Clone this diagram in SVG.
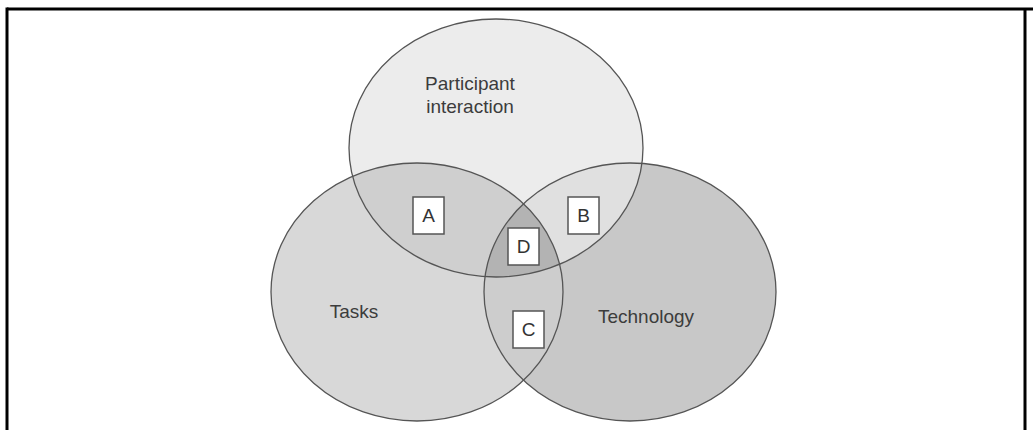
<svg xmlns="http://www.w3.org/2000/svg" width="1033" height="430" viewBox="0 0 1033 430">
<style>
.outline{fill:none;stroke:#555;stroke-width:1.3}
.lbl{font-family:"Liberation Sans",Arial,sans-serif;font-size:19px;fill:#3c3c3c}
.box{fill:#fff;stroke:#555;stroke-width:1.5}
.let{font-family:"Liberation Sans",Arial,sans-serif;font-size:19px;fill:#333;text-anchor:middle}
</style>
<defs>
<clipPath id="cTop"><ellipse cx="496" cy="148" rx="147" ry="129"/></clipPath>
<clipPath id="cLeft"><ellipse cx="417" cy="292" rx="146" ry="129"/></clipPath>
<clipPath id="cRight"><ellipse cx="630" cy="292" rx="146" ry="129"/></clipPath>
</defs>
<rect width="1033" height="430" fill="#fff"/>
<g id="frame" stroke="#000" stroke-width="3" fill="none">
<line x1="7" y1="9" x2="1033" y2="9"/>
<line x1="7" y1="7.5" x2="7" y2="430"/>
<line x1="1025" y1="9" x2="1025" y2="430"/>
</g>
<g id="tasks">
<ellipse cx="417" cy="292" rx="146" ry="129" fill="#d8d8d8"/>
</g>
<g id="technology">
<ellipse cx="630" cy="292" rx="146" ry="129" fill="#c8c8c8"/>
</g>
<g id="participant">
<ellipse cx="496" cy="148" rx="147" ry="129" fill="#ececec"/>
</g>
<g id="overlaps">
<g clip-path="url(#cTop)"><ellipse cx="417" cy="292" rx="146" ry="129" fill="#cfcfcf"/></g>
<g clip-path="url(#cTop)"><ellipse cx="630" cy="292" rx="146" ry="129" fill="#e0e0e0"/></g>
<g clip-path="url(#cLeft)"><ellipse cx="630" cy="292" rx="146" ry="129" fill="#cdcdcd"/></g>
<g clip-path="url(#cTop)"><g clip-path="url(#cLeft)"><ellipse cx="630" cy="292" rx="146" ry="129" fill="#b3b3b3"/></g></g>
</g>
<g id="outlines">
<ellipse class="outline" cx="496" cy="148" rx="147" ry="129"/>
<ellipse class="outline" cx="417" cy="292" rx="146" ry="129"/>
<ellipse class="outline" cx="630" cy="292" rx="146" ry="129"/>
</g>
<g id="labels">
<text class="lbl" x="470" y="90" text-anchor="middle">Participant</text>
<text class="lbl" x="470" y="113" text-anchor="middle">interaction</text>
<text class="lbl" x="354" y="318" text-anchor="middle">Tasks</text>
<text class="lbl" x="646" y="323" text-anchor="middle">Technology</text>
</g>
<g id="boxA"><rect class="box" x="413" y="197" width="31" height="37"/><text class="let" x="428.5" y="222">A</text></g>
<g id="boxB"><rect class="box" x="568" y="197" width="31" height="37"/><text class="let" x="583.5" y="222">B</text></g>
<g id="boxD"><rect class="box" x="508" y="228" width="31" height="37"/><text class="let" x="523.5" y="253">D</text></g>
<g id="boxC"><rect class="box" x="513" y="311" width="31" height="37"/><text class="let" x="528.5" y="336">C</text></g>
</svg>
